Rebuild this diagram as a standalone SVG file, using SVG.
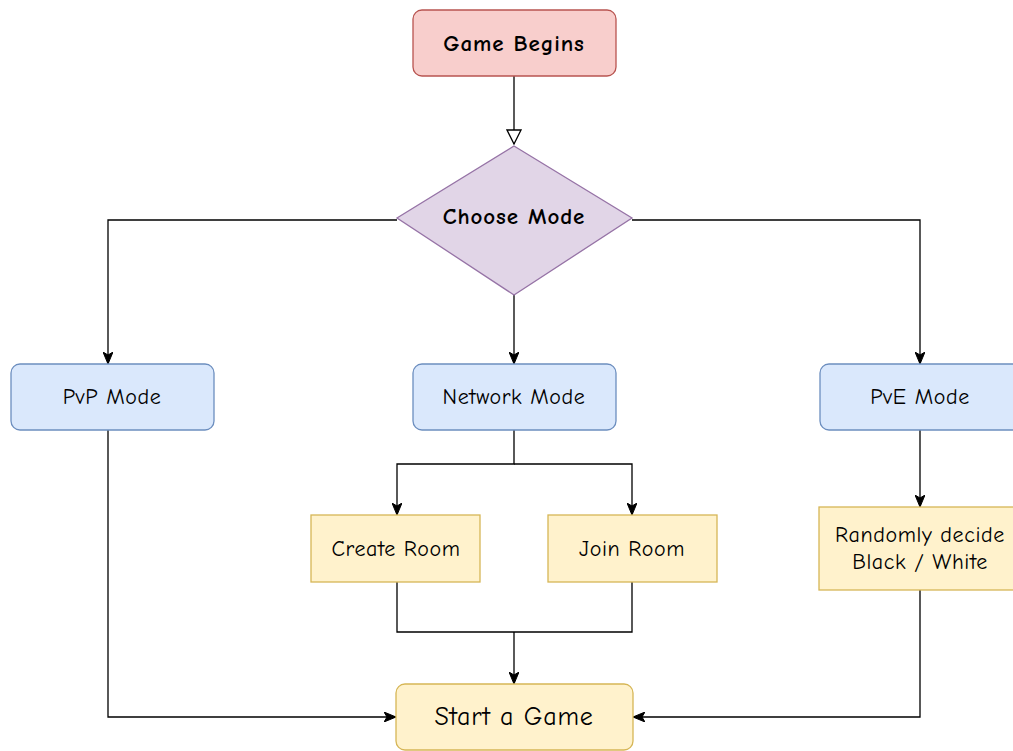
<svg xmlns="http://www.w3.org/2000/svg" width="1013" height="751" viewBox="0 0 1013 751">
<defs>
<marker id="arr" viewBox="0 0 12 10" refX="11" refY="5" markerWidth="12" markerHeight="10" markerUnits="userSpaceOnUse" orient="auto">
<path d="M0,0 L12,5 L0,10 L3,5 Z" fill="#000" stroke="#000" stroke-width="1"/>
</marker>
<marker id="open" viewBox="0 0 16 16" refX="15" refY="8" markerWidth="16" markerHeight="16" markerUnits="userSpaceOnUse" orient="auto">
<path d="M1,1 L15,8 L1,15 Z" fill="#fff" stroke="#000" stroke-width="1.3"/>
</marker>
</defs>
<style>
text{font-family:"Comic Sans MS","Comic Neue","Open Sans","Liberation Sans",sans-serif;fill:#000;text-anchor:middle;dominant-baseline:central;font-size:22px;letter-spacing:0.6px}
.b{font-weight:bold;font-size:23px;letter-spacing:0.9px}
.s{font-size:22px}
.red{fill:#f8cecc;stroke:#b85450;stroke-width:1.3}
.pur{fill:#e1d5e7;stroke:#9673a6;stroke-width:1.3}
.blu{fill:#dae8fc;stroke:#6c8ebf;stroke-width:1.3}
.yel{fill:#fff2cc;stroke:#d6b656;stroke-width:1.3}
.c{fill:none;stroke:#000;stroke-width:1.3}
</style>
<rect width="1013" height="751" fill="#fff"/>
<g id="connectors">
<path class="c" d="M514,76 V144" marker-end="url(#open)"/>
<path class="c" d="M397,220 H108 V363" marker-end="url(#arr)"/>
<path class="c" d="M632,220 H920 V363" marker-end="url(#arr)"/>
<path class="c" d="M514,295 V363" marker-end="url(#arr)"/>
<path class="c" d="M514,430 V464 H397 V514" marker-end="url(#arr)"/>
<path class="c" d="M514,464 H632 V514" marker-end="url(#arr)"/>
<path class="c" d="M397,582 V632 H632 V582"/>
<path class="c" d="M514,632 V683" marker-end="url(#arr)"/>
<path class="c" d="M108,430 V717 H395" marker-end="url(#arr)"/>
<path class="c" d="M920,430 V506" marker-end="url(#arr)"/>
<path class="c" d="M920,590 V717 H634" marker-end="url(#arr)"/>
</g>
<g id="game-begins">
<rect class="red" x="413" y="10" width="203" height="66" rx="9"/>
<text class="b" x="514" y="43">Game Begins</text>
</g>
<g id="choose-mode">
<path class="pur" d="M514,146 L632,218 L514,295 L397,218 Z"/>
<text class="b" x="514" y="216">Choose Mode</text>
</g>
<g id="pvp-mode">
<rect class="blu" x="11" y="364" width="203" height="66" rx="9"/>
<text x="112" y="397">PvP Mode</text>
</g>
<g id="network-mode">
<rect class="blu" x="413" y="364" width="203" height="66" rx="9"/>
<text x="514" y="397">Network Mode</text>
</g>
<g id="pve-mode">
<rect class="blu" x="820" y="364" width="203" height="66" rx="9"/>
<text x="920" y="397">PvE Mode</text>
</g>
<g id="create-room">
<rect class="yel" x="311" y="515" width="169" height="67"/>
<text class="s" x="396" y="549">Create Room</text>
</g>
<g id="join-room">
<rect class="yel" x="548" y="515" width="169" height="67"/>
<text class="s" x="632" y="549">Join Room</text>
</g>
<g id="randomly-decide">
<rect class="yel" x="819" y="507" width="203" height="83"/>
<text class="s" x="920" y="535">Randomly decide</text>
<text class="s" x="920" y="562">Black / White</text>
</g>
<g id="start-game">
<rect class="yel" x="396" y="684" width="237" height="66" rx="9"/>
<text x="514" y="717" style="font-size:26px;letter-spacing:0.8px">Start a Game</text>
</g>
</svg>
